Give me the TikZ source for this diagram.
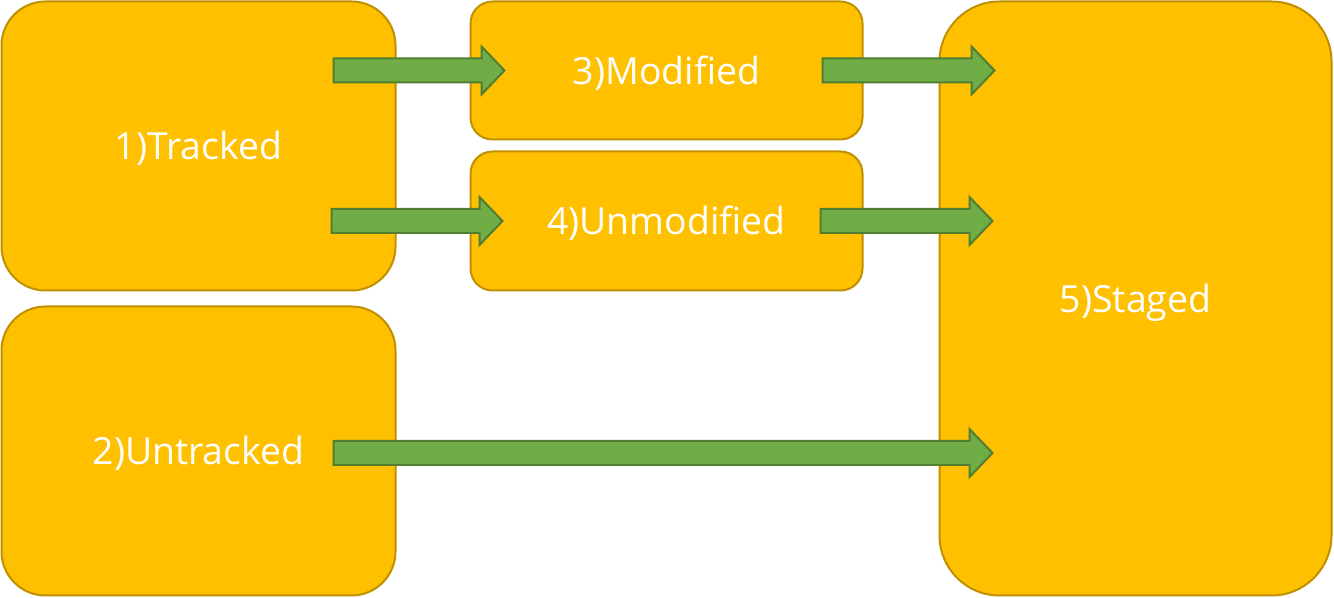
\documentclass[tikz,border=0pt]{standalone}
\usepackage{fontspec}
\setmainfont{Open Sans}
\usetikzlibrary{calc}
\definecolor{boxfill}{HTML}{FFC000}
\definecolor{boxline}{HTML}{BF9000}
\definecolor{arrfill}{HTML}{70AD47}
\definecolor{arrline}{HTML}{507E32}
\tikzstyle{state} = [draw=boxline, fill=boxfill, line width=1pt, text=white, font=\fontsize{18.7}{22}\selectfont, inner sep=0pt, text height=14pt, text depth=0pt]
\tikzstyle{blockarrow} = [draw=arrline, fill=arrfill, line width=1pt, line join=miter,
  to path={let \p1=(\tikztostart), \p2=(\tikztotarget) in
    (\x1,\y1+6pt) -- (\x2-11.5pt,\y1+6pt) -- (\x2-11.5pt,\y1+12pt) -- (\x2,\y1)
    -- (\x2-11.5pt,\y1-12pt) -- (\x2-11.5pt,\y1-6pt) -- (\x1,\y1-6pt) -- cycle}]

\begin{document}
\begin{tikzpicture}[x=1pt,y=-1pt]
    \useasboundingbox (0,0) rectangle (667,299);
    \draw (99.25,73) node[state, minimum width=197pt, minimum height=144.5pt, rounded corners=22pt] (trk) {1)Tracked};
    \draw (99.25,225.5) node[state, minimum width=197pt, minimum height=144.5pt, rounded corners=22pt] (unt) {2)Untracked};
    \draw (333.25,35.25) node[state, minimum width=196pt, minimum height=69pt, rounded corners=11pt] (mod) {3)Modified};
    \draw (333.25,110.5) node[state, minimum width=196pt, minimum height=69.5pt, rounded corners=11pt] (unm) {4)Unmodified};
    \draw (567.75,149.25) node[state, minimum width=196pt, minimum height=297pt, rounded corners=30pt] (stg) {5)Staged};
    % arrow ends
    \coordinate (a1s) at ($(trk.east |- mod.west)+(-31.5,0)$);
    \coordinate (a1e) at ($(mod.west)+(17.5,0)$);
    \coordinate (a2s) at ($(trk.east |- unm.west)+(-32.5,0)$);
    \coordinate (a2e) at ($(unm.west)+(16.5,0)$);
    \coordinate (a3s) at ($(mod.east)+(-20.5,0)$);
    \coordinate (a3e) at ($(stg.west |- mod.east)+(28,0)$);
    \coordinate (a4s) at ($(unm.east)+(-21.5,0)$);
    \coordinate (a4e) at ($(stg.west |- unm.east)+(27,0)$);
    \coordinate (a5s) at ($(unt.east)+(-31.5,1)$);
    \coordinate (a5e) at ($(stg.west |- a5s)+(27,0)$);
    \draw [blockarrow] (a1s) to (a1e);
    \draw [blockarrow] (a2s) to (a2e);
    \draw [blockarrow] (a3s) to (a3e);
    \draw [blockarrow] (a4s) to (a4e);
    \draw [blockarrow] (a5s) to (a5e);
\end{tikzpicture}
\end{document}
